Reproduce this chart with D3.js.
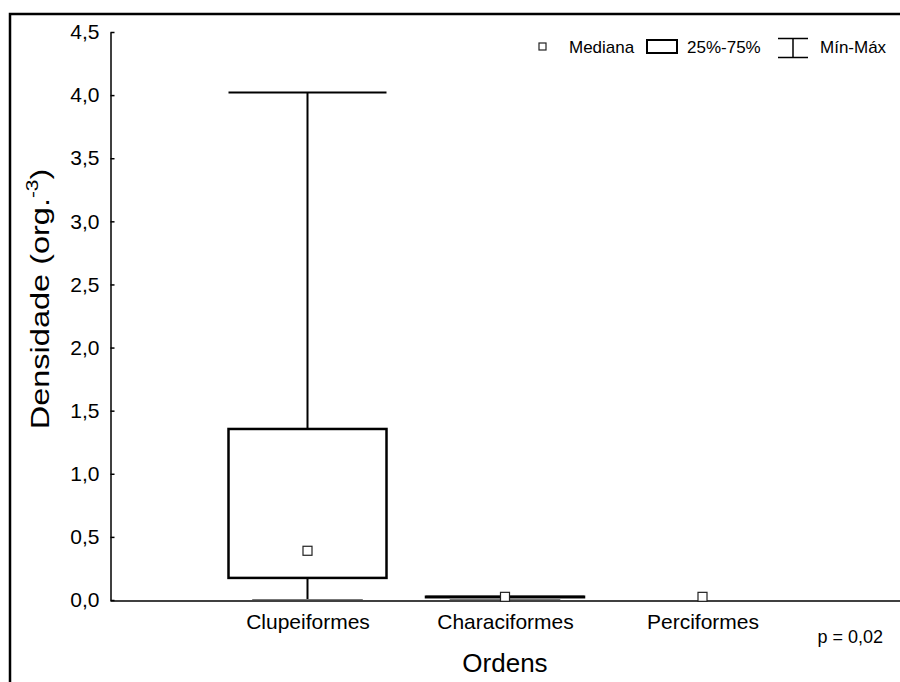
<!DOCTYPE html>
<html>
<head>
<meta charset="utf-8">
<script src="https://cdn.jsdelivr.net/npm/d3@7"></script>
<style>
  body { margin: 0; background: #fff; }
  svg text { font-family: "Liberation Sans", Arial, sans-serif; fill: #000; }
</style>
</head>
<body>
<div id="container"></div>
<script>
let w = 900;
let h = 682;

// data
let categories = ["Clupeiformes", "Characiformes", "Perciformes"];
let minVals = [0, 0, 0];
let q1Vals = [0.175, 0.022, 0];
let medianVals = [0.39, 0.025, 0.025];
let q3Vals = [1.355, 0.026, 0];
let maxVals = [4.02, 0.026, 0];
let yTicks = [0, 0.5, 1, 1.5, 2, 2.5, 3, 3.5, 4, 4.5];
let legendLabels = ["Mediana", "25%-75%", "Mín-Máx"];
let pLabel = "p = 0,02";

let data = categories.map(function(c, i){
  return {name: c, min: minVals[i], q1: q1Vals[i], med: medianVals[i], q3: q3Vals[i], max: maxVals[i]};
});

let viz = d3.select("#container")
  .append("svg")
    .attr("width", w)
    .attr("height", h)
;

// outer frame
viz.append("rect")
  .attr("x", 10)
  .attr("y", 14)
  .attr("width", 900)
  .attr("height", 700)
  .attr("fill", "none")
  .attr("stroke", "#000")
  .attr("stroke-width", 2.5)
;

let ptBR = d3.formatLocale({decimal: ",", thousands: ".", grouping: [3], currency: ["R$", ""]});
let fmt = ptBR.format(".1f");

let xScale = d3.scalePoint().domain(categories).range([110, 900]).padding(1);
let yScale = d3.scaleLinear().domain([0, 4.5]).range([600, 32]);
let boxW = xScale.step() * 0.8;

// y axis
let yAxisGroup = viz.append("g").attr("class", "yaxis").attr("transform", "translate(110.5,0)");
yAxisGroup.call(d3.axisLeft(yScale).tickValues(yTicks).tickFormat(fmt).tickSizeInner(-4).tickSizeOuter(0).tickPadding(11));
yAxisGroup.select(".domain").attr("stroke-width", 1.5);
yAxisGroup.selectAll(".tick line").attr("stroke-width", 1.5);
yAxisGroup.selectAll("text")
  .attr("font-size", 21)
  .attr("font-family", "Liberation Sans, Arial, sans-serif")
;

// x axis
let xAxisGroup = viz.append("g").attr("class", "xaxis").attr("transform", "translate(0,600.5)");
xAxisGroup.call(d3.axisBottom(xScale).tickSize(0).tickPadding(14));
xAxisGroup.select(".domain").attr("stroke-width", 1.5);
xAxisGroup.selectAll("text")
  .attr("font-size", 21)
  .attr("font-family", "Liberation Sans, Arial, sans-serif")
;

// boxes
let vizGroup = viz.append("g").attr("class", "vizGroup");
let groups = vizGroup.selectAll(".datagroup").data(data).enter()
  .append("g")
    .attr("class", "datagroup")
    .attr("transform", function(d){ return "translate(" + xScale(d.name) + ",0)"; })
;

// whisker
groups.append("line")
  .attr("x1", 0).attr("x2", 0)
  .attr("y1", function(d){ return yScale(d.min); })
  .attr("y2", function(d){ return yScale(d.max); })
  .attr("stroke", "#000")
  .attr("stroke-width", 2)
;
groups.filter(function(d){ return d.max > 0; }).append("line")
  .attr("x1", -boxW / 2).attr("x2", boxW / 2)
  .attr("y1", function(d){ return yScale(d.max); })
  .attr("y2", function(d){ return yScale(d.max); })
  .attr("stroke", "#000")
  .attr("stroke-width", 2)
;
// min caps sit on the axis line
groups.filter(function(d){ return d.max > 0; }).append("line")
  .attr("x1", -boxW * 0.35).attr("x2", boxW * 0.35)
  .attr("y1", function(d){ return yScale(d.min) - 0.5; })
  .attr("y2", function(d){ return yScale(d.min) - 0.5; })
  .attr("stroke", "#777")
  .attr("stroke-width", 1.2)
;

groups.filter(function(d){ return d.q3 > d.q1; }).append("rect")
  .attr("x", -boxW / 2)
  .attr("width", boxW)
  .attr("y", function(d){ return yScale(d.q3); })
  .attr("height", function(d){ return yScale(d.q1) - yScale(d.q3); })
  .attr("fill", "#fff")
  .attr("stroke", "#000")
  .attr("stroke-width", 2.5)
;

groups.append("rect")
  .attr("x", -4.5)
  .attr("y", function(d){ return yScale(d.med) - 4.5; })
  .attr("width", 9)
  .attr("height", 9)
  .attr("fill", "#fff")
  .attr("stroke", "#222")
  .attr("stroke-width", 1.2)
;

// legend
let legend = viz.append("g").attr("class", "legend").attr("font-size", 17);
legend.append("rect")
  .attr("x", 539).attr("y", 43).attr("width", 7).attr("height", 7)
  .attr("fill", "#fff").attr("stroke", "#222").attr("stroke-width", 1.2);
legend.append("text").attr("x", 569).attr("y", 53).text(legendLabels[0]);
legend.append("rect")
  .attr("x", 647).attr("y", 40).attr("width", 30).attr("height", 13)
  .attr("fill", "none").attr("stroke", "#000").attr("stroke-width", 2);
legend.append("text").attr("x", 687).attr("y", 53).text(legendLabels[1]);
legend.append("path")
  .attr("d", "M778,38.5H808M793,38.5V57.5M778,57.5H808")
  .attr("fill", "none").attr("stroke", "#000").attr("stroke-width", 1.5);
legend.append("text").attr("x", 820).attr("y", 53).text(legendLabels[2]);

// titles
viz.append("text")
  .attr("x", 505)
  .attr("y", 672)
  .attr("text-anchor", "middle")
  .attr("font-size", 26)
  .text("Ordens")
;

let yTitle = viz.append("text")
  .attr("transform", "translate(49,299) rotate(-90) scale(1.3,1)")
  .attr("text-anchor", "middle")
  .attr("font-size", 25)
;
yTitle.append("tspan").text("Densidade (org.");
yTitle.append("tspan").attr("font-size", 16).attr("dy", -11).text("-3");
yTitle.append("tspan").attr("dy", 11).text(")");

viz.append("text")
  .attr("x", 883)
  .attr("y", 643)
  .attr("text-anchor", "end")
  .attr("font-size", 18)
  .text(pLabel)
;
</script>
</body>
</html>
